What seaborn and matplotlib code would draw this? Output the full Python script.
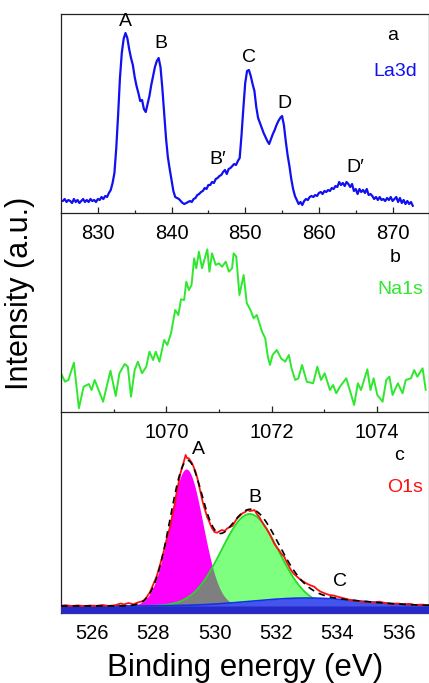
import numpy as np
import pandas as pd
import matplotlib
matplotlib.use("Agg")
import matplotlib.pyplot as plt
from matplotlib.ticker import FixedLocator
import seaborn as sns

# ---------------- data ----------------
# Panel a: La3d spectrum, energy step 0.25 eV starting at 825.25 eV
la_start = 825.25
la_step = 0.25
la_intensity = [
    12, 14, 11, 13, 12, 10, 14, 11, 13, 10, 12, 14, 11, 13, 11, 14, 12, 13, 11, 14,
    13, 16, 14, 17, 16, 20, 23, 30, 40, 65, 98, 135, 160, 174, 180, 175,
    164, 155, 148, 136, 127, 120, 112, 113, 104, 101, 109, 117, 128, 137, 146, 152,
    155, 146, 125, 100, 75, 56, 44, 33, 22, 16, 15, 14, 12, 10, 9, 10,
    11, 12, 11, 14, 15, 18, 19, 21, 22, 25, 24, 28, 28, 31, 30, 34,
    35, 37, 38, 41, 43, 39, 44, 45, 47, 49, 48, 52, 55, 78, 105, 130,
    142, 143, 137, 129, 122, 106, 95, 90, 85, 80, 76, 72, 69, 74, 79, 83,
    88, 92, 95, 97, 88, 72, 58, 47, 34, 24, 17, 13, 9, 11, 8, 12,
    14, 13, 16, 17, 16, 18, 17, 20, 21, 19, 22, 21, 23, 22, 25, 24,
    27, 26, 31, 28, 30, 27, 31, 29, 26, 29, 22, 24, 19, 24, 21, 23,
    20, 24, 18, 19, 17, 14, 16, 13, 16, 13, 14, 12, 15, 13, 16, 12,
    14, 16, 11, 15, 10, 13, 9, 12, 9, 11, 7,
]
la_labels = ["A", "B", "B\u2032", "C", "D", "D\u2032"]
la_label_x = [833.8, 838.6, 846.2, 850.5, 855.3, 865.0]
la_label_y = [191, 170, 54, 156, 110, 45]

# Panel b: Na1s spectrum
na_energy = [
    1068.00, 1068.075, 1068.14, 1068.245, 1068.34, 1068.43, 1068.53, 1068.58, 1068.64, 1068.80,
    1068.94, 1069.04, 1069.11, 1069.21, 1069.27, 1069.33, 1069.40, 1069.46, 1069.54, 1069.62,
    1069.68, 1069.75, 1069.80, 1069.87, 1069.96, 1070.02, 1070.09, 1070.17, 1070.23, 1070.28,
    1070.34, 1070.38, 1070.43, 1070.48, 1070.53, 1070.57, 1070.62, 1070.68, 1070.74, 1070.78,
    1070.82, 1070.87, 1070.94, 1071.00, 1071.06, 1071.13, 1071.19, 1071.25, 1071.28, 1071.33,
    1071.39, 1071.47, 1071.53, 1071.60, 1071.66, 1071.72, 1071.82, 1071.88, 1071.93, 1071.97,
    1072.02, 1072.10, 1072.18, 1072.26, 1072.33, 1072.38, 1072.45, 1072.51, 1072.58, 1072.67,
    1072.79, 1072.87, 1072.94, 1073.01, 1073.11, 1073.17, 1073.23, 1073.30, 1073.42, 1073.57,
    1073.64, 1073.70, 1073.82, 1073.88, 1073.94, 1074.01, 1074.11, 1074.18, 1074.24, 1074.30,
    1074.40, 1074.49, 1074.55, 1074.65, 1074.71, 1074.77, 1074.87, 1074.93,
]
na_intensity = [
    38.7, 30.3, 32.0, 49.3, 3.7, 25.3, 28.0, 22.0, 32.0, 10.3,
    41.3, 16.0, 38.7, 48.0, 45.3, 15.3, 42.0, 50.3, 38.7, 45.3,
    60.3, 52.0, 60.3, 50.3, 72.0, 67.0, 78.7, 102.0, 97.0, 112.7,
    112.0, 130.3, 122.0, 127.0, 153.7, 143.7, 160.3, 143.7, 155.3, 162.7,
    140.3, 158.7, 147.0, 148.7, 145.3, 150.3, 140.3, 143.7, 158.7, 155.3,
    117.0, 137.0, 108.7, 102.0, 93.7, 97.0, 80.3, 73.7, 55.3, 47.0,
    57.0, 62.0, 53.7, 50.3, 57.0, 43.7, 32.0, 33.7, 47.0, 30.3,
    28.7, 45.3, 32.0, 38.7, 22.0, 27.0, 18.7, 25.3, 33.7, 7.0,
    28.7, 22.0, 42.7, 22.0, 33.7, 17.0, 10.3, 32.0, 35.3, 17.0,
    28.7, 18.7, 32.0, 33.7, 42.0, 35.3, 43.7, 22.0,
]

# Panel c: O1s measured spectrum
o_energy = [
    525.00, 525.15, 525.35, 525.55, 525.75, 525.95, 526.15, 526.35, 526.55, 526.75,
    526.95, 527.05, 527.20, 527.36, 527.50, 527.60, 527.70, 527.80, 527.90, 528.02,
    528.12, 528.24, 528.35, 528.45, 528.55, 528.62, 528.70, 528.76, 528.83, 528.89,
    528.95, 529.00, 529.06, 529.10, 529.16, 529.22, 529.27, 529.32, 529.38, 529.44,
    529.49, 529.55, 529.60, 529.66, 529.71, 529.76, 529.81, 529.87, 529.92, 530.00,
    530.09, 530.17, 530.25, 530.33, 530.42, 530.50, 530.58, 530.66, 530.74, 530.82,
    530.91, 531.00, 531.07, 531.15, 531.23, 531.30, 531.38, 531.45, 531.53, 531.61,
    531.70, 531.78, 531.86, 531.94, 532.02, 532.10, 532.18, 532.27, 532.35, 532.43,
    532.51, 532.59, 532.70, 532.81, 532.92, 533.03, 533.14, 533.25, 533.35, 533.46,
    533.60, 533.74, 533.88, 534.01, 534.17, 534.34, 534.50, 534.66, 534.82, 534.99,
    535.18, 535.37, 535.56, 535.75, 535.97, 536.19, 536.35, 536.51, 536.75, 537.00,
]
o_intensity = [
    7.3, 7.8, 7.0, 7.6, 6.9, 7.5, 7.2, 8.0, 7.1, 7.7,
    9.5, 8.6, 10.0, 8.7, 10.5, 11.3, 12.5, 16.3, 21.0, 29.7,
    37.0, 49.7, 62.0, 74.7, 86.0, 96.3, 108.0, 119.7, 130.0, 139.7,
    146.0, 151.3, 158.0, 155.0, 154.7, 152.0, 149.7, 146.0, 141.3, 135.0,
    128.0, 120.0, 113.0, 106.0, 101.3, 96.0, 93.0, 88.0, 84.7, 81.0,
    80.3, 82.0, 83.0, 82.0, 84.7, 86.0, 87.0, 91.0, 94.7, 97.0,
    99.7, 101.0, 103.0, 102.0, 102.3, 103.0, 99.0, 96.3, 92.0, 88.0,
    84.0, 79.7, 75.0, 69.7, 66.0, 63.0, 59.0, 56.3, 51.0, 46.3,
    42.0, 39.0, 36.0, 33.0, 31.0, 29.0, 27.5, 26.3, 23.5, 21.3,
    19.5, 18.0, 17.5, 16.3, 15.0, 13.7, 12.5, 12.0, 11.0, 11.3,
    10.5, 11.3, 10.0, 9.0, 9.5, 8.7, 9.2, 8.0, 8.4, 7.7,
]
# fitted O1s components (Gaussian peaks)
o_baseline = 7.0
o_peak_names = ["A", "B", "C"]
o_peak_centers = [529.08, 531.15, 533.0]
o_peak_heights = [137.0, 92.0, 8.0]
o_peak_fwhm = [1.27, 2.18, 4.2]
o_label_x = [529.48, 531.3, 534.1]
o_label_y = [164, 116, 31]

# ---------------- style ----------------
sns.set_theme(style="ticks")
plt.rcParams["font.family"] = ["Liberation Sans", "DejaVu Sans"]
plt.rcParams["axes.linewidth"] = 0.9
plt.rcParams["axes.edgecolor"] = "#222222"

FS = 14
TFS = 14.5
W, H = 429, 683
fig = plt.figure(figsize=(W / 100, H / 100), dpi=100)

left = 61 / W
width = 1.0 - left + 0.001


def make_ax(top_px, bot_px):
    return fig.add_axes([left, 1 - bot_px / H, width, (bot_px - top_px) / H])


ax_a = make_ax(14, 213)
ax_b = make_ax(213, 412)
ax_c = make_ax(412, 613)

for ax in (ax_a, ax_b, ax_c):
    ax.tick_params(axis="x", which="major", direction="in", length=4, width=0.9,
                   labelsize=TFS, pad=8, colors="#222222", labelcolor="black")
    ax.tick_params(axis="x", which="minor", direction="in", length=2.5, width=0.9,
                   colors="#222222")
# lower panels transparent so the tick labels of the panel above stay visible
for ax in (ax_b, ax_c):
    ax.patch.set_alpha(0.0)

# ---- panel a ----
la_energy = la_start + la_step * np.arange(len(la_intensity))
df_a = pd.DataFrame({"E": la_energy, "I": la_intensity})
sns.lineplot(data=df_a, x="E", y="I", ax=ax_a, color="#1010f0", linewidth=1.6,
             estimator=None, sort=False)
ax_a.set_xlim(825, 875)
ax_a.set_ylim(0, 199)
ax_a.xaxis.set_major_locator(FixedLocator([830, 840, 850, 860, 870]))
ax_a.xaxis.set_minor_locator(FixedLocator([835, 845, 855, 865]))
for t, x, y in zip(la_labels, la_label_x, la_label_y):
    ax_a.text(x, y, t, ha="center", va="center", fontsize=FS, color="black")
ax_a.text(870.0, 178, "a", ha="center", va="center", fontsize=FS, color="black")
ax_a.text(870.4, 142, "La3d", ha="center", va="center", fontsize=FS, color="#1010f0")

# ---- panel b ----
df_b = pd.DataFrame({"E": na_energy, "I": na_intensity})
sns.lineplot(data=df_b, x="E", y="I", ax=ax_b, color="#2ee82e", linewidth=1.4,
             estimator=None, sort=False)
ax_b.set_xlim(1068, 1075)
ax_b.set_ylim(0, 199)
ax_b.xaxis.set_major_locator(FixedLocator([1070, 1072, 1074]))
ax_b.xaxis.set_minor_locator(FixedLocator([1069, 1071, 1073]))
ax_b.spines["top"].set_visible(False)
ax_b.text(1074.34, 154, "b", ha="center", va="center", fontsize=FS, color="black")
ax_b.text(1074.45, 123, "Na1s", ha="center", va="center", fontsize=FS, color="#2ee82e")

# ---- panel c ----
xc = np.linspace(525, 537, 600)


def gauss(x, c, h, fwhm):
    s = fwhm / 2.3548
    return h * np.exp(-0.5 * ((x - c) / s) ** 2)


comp = [gauss(xc, c, h, f) for c, h, f in zip(o_peak_centers, o_peak_heights, o_peak_fwhm)]
fit = o_baseline + comp[0] + comp[1] + comp[2]

ax_c.fill_between(xc, o_baseline, o_baseline + comp[0], color="#ff00ff", linewidth=0, zorder=1)
ax_c.fill_between(xc, o_baseline, o_baseline + comp[1], color="#00ff00", alpha=0.5,
                  linewidth=0, zorder=2)
sns.lineplot(x=xc, y=o_baseline + comp[1], ax=ax_c, color="#22dd22", linewidth=1.3,
             estimator=None, sort=False, zorder=2.2)
ax_c.fill_between(xc, 0, o_baseline + comp[2], color="#4455ee", linewidth=0, zorder=3)
sns.lineplot(x=xc, y=o_baseline + comp[2], ax=ax_c, color="#1530e8", linewidth=1.2,
             estimator=None, sort=False, zorder=3.1)
ax_c.fill_between(xc, 0, o_baseline, color="#2828c8", linewidth=0, zorder=3.2)

df_c = pd.DataFrame({"E": o_energy, "I": o_intensity})
sns.lineplot(data=df_c, x="E", y="I", ax=ax_c, color="#ff1010", linewidth=1.3,
             estimator=None, sort=False, zorder=4)
sns.lineplot(x=xc, y=fit, ax=ax_c, color="black", linewidth=1.2, linestyle=(0, (4, 3)),
             estimator=None, sort=False, zorder=5)
ax_c.set_xlim(525, 537)
ax_c.set_ylim(0, 201)
ax_c.xaxis.set_major_locator(FixedLocator([526, 528, 530, 532, 534, 536]))
ax_c.xaxis.set_minor_locator(FixedLocator([527, 529, 531, 533, 535]))
ax_c.spines["top"].set_visible(False)
for t, x, y in zip(o_peak_names, o_label_x, o_label_y):
    ax_c.text(x, y, t, ha="center", va="center", fontsize=FS, color="black", zorder=6)
ax_c.text(536.0, 158, "c", ha="center", va="center", fontsize=FS, color="black")
ax_c.text(536.2, 126, "O1s", ha="center", va="center", fontsize=FS, color="#ff1010")

for ax in (ax_a, ax_b, ax_c):
    ax.set_yticks([])
    ax.set_ylabel("")
    ax.set_xlabel("")

# ---- shared axis labels ----
fig.text(20 / W, 1 - 293 / H, "Intensity (a.u.)", rotation=90, ha="center", va="center",
         fontsize=22, color="black")
fig.text(245 / W, 1 - 676 / H, "Binding energy (eV)", ha="center", va="baseline",
         fontsize=22.5, color="black")

fig.savefig("out.png", dpi=100, facecolor="white")
